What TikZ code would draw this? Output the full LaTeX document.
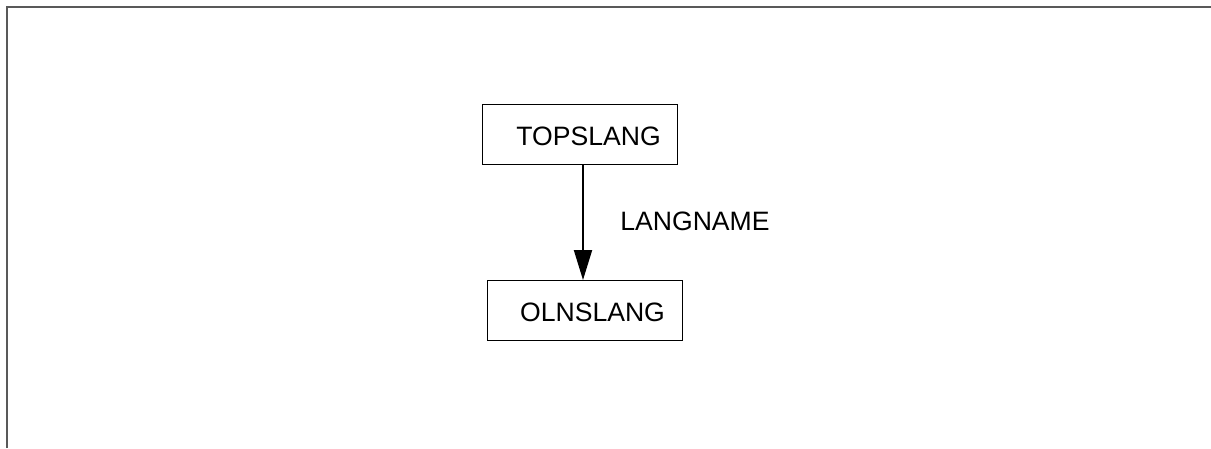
\documentclass[tikz,border=0pt]{standalone}
\usepackage{fontspec}
\setmainfont{Liberation Sans}
\usetikzlibrary{arrows.meta}
\begin{document}
\begin{tikzpicture}[x=1pt,y=-1pt,
  boxst/.style={draw=black,line width=1pt,inner sep=0pt,minimum width=195pt,minimum height=60pt},
  txt/.style={font=\fontsize{26.6}{32}\selectfont,inner sep=0pt,anchor=center},
  arr/.style={draw=black,line width=2pt,-{Triangle[length=30pt,width=18pt]}}]
\useasboundingbox (0,0) rectangle (1211,448);
\draw[black!65,line width=2pt] (6.5,448) -- (6.5,6.5) -- (1211,6.5);
\node[boxst] (top) at (580,134.5) {};
\node[boxst] (bot) at (584.5,310.5) {};
\node[txt] (toptxt) at (588.5,136) {TOPSLANG};
\node[txt] (bottxt) at (592.5,312) {OLNSLANG};
\node[txt] (lbl) at (695,221) {LANGNAME};
\coordinate (ax) at (583,0);
\draw[arr] (top.south -| ax) -- (bot.north -| ax);
\end{tikzpicture}
\end{document}
